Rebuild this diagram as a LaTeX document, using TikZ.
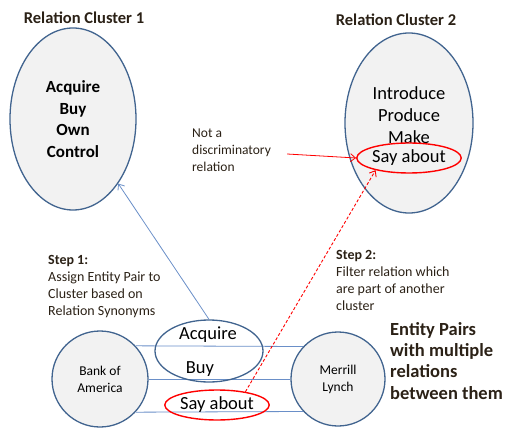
\documentclass[tikz,border=0pt]{standalone}
\usepackage{fontspec}
\setmainfont{Carlito}
\usetikzlibrary{shapes.geometric, arrows.meta}
\definecolor{ringblue}{HTML}{41648F}
\definecolor{linkblue}{HTML}{6A8FC8}
\definecolor{ringfill}{HTML}{F2F2F2}
\definecolor{darktext}{HTML}{2B2116}
\tikzset{
	cluster/.style={draw=ringblue, fill=ringfill, ellipse, line width=1.3pt, inner sep=0pt},
	entity/.style={draw=ringblue, fill=ringfill, circle, line width=1.3pt, inner sep=0pt, minimum size=96pt, font=\fontsize{13.5}{17}\selectfont, align=center},
	relbox/.style={draw=ringblue, ellipse, line width=1.3pt, inner sep=0pt},
	filtered/.style={draw=red, ellipse, line width=1.4pt, inner sep=0pt},
	note/.style={font=\fontsize{14}{17}\selectfont, text=darktext, align=left, anchor=north west, inner sep=0pt},
	heading/.style={font=\fontsize{16.5}{20}\selectfont\bfseries, text=darktext, inner sep=0pt},
	>={Straight Barb[length=5pt, width=8pt]},
}
\begin{document}
\begin{tikzpicture}[x=1pt, y=-1pt]
	\useasboundingbox (0, 0) rectangle (505, 430);
	% clusters
	\node[heading] (titleA) at (84, 18) {Relation Cluster 1};
	\node[heading] (titleB) at (396, 20) {Relation Cluster 2};
	\node[cluster, minimum width=126pt, minimum height=182pt, align=center, font=\fontsize{17}{21.7}\selectfont\bfseries] (clusterA) at (73, 119) {Acquire\\Buy\\Own\\Control};
	\node[cluster, minimum width=128pt, minimum height=180pt] (clusterB) at (409, 123) {};
	\node[align=center, font=\fontsize{18.5}{21.7}\selectfont, inner sep=0pt] (clusterBtext) at (409, 115) {Introduce\\Produce\\Make};
	\node[filtered, minimum width=102pt, minimum height=30pt, font=\fontsize{18.5}{20}\selectfont] (saytop) at (409, 158) {Say about};
	\node[note, font=\fontsize{13.5}{16.8}\selectfont] (notdisc) at (192, 129) {Not a\\discriminatory\\relation};
	% entity pair
	\node[entity] (boa) at (100, 379) {Bank of\\America};
	\node[entity, minimum size=94pt] (ml) at (338, 379) {Merrill\\Lynch};
	\draw[linkblue, line width=0.8pt] (boa.43) -- (ml.137);
	\draw[linkblue, line width=0.8pt] (boa.east) -- (ml.west);
	\draw[linkblue, line width=0.8pt] (boa.-43) -- (ml.-137);
	\node[relbox, minimum width=108pt, minimum height=62pt] (acqbuy) at (209, 351) {};
	\node[font=\fontsize{18.5}{20}\selectfont, inner sep=0pt] (acq) at (208, 335) {Acquire};
	\node[font=\fontsize{18.5}{20}\selectfont, inner sep=0pt] (buy) at (200, 369) {Buy};
	\node[filtered, minimum width=102pt, minimum height=30pt, font=\fontsize{18.5}{20}\selectfont] (saybot) at (217, 405) {Say about};
	% steps
	\node[note] (stepA) at (48, 255) {\textbf{Step 1:}\\Assign Entity Pair to\\Cluster based on\\Relation Synonyms};
	\node[note] (stepB) at (336, 250) {\textbf{Step 2:}\\Filter relation which\\are part of another\\cluster};
	\node[note, font=\fontsize{18.5}{21.3}\selectfont\bfseries] (pairs) at (390, 322) {Entity Pairs\\with multiple\\relations\\between them};
	% arrows
	\draw[->, linkblue, line width=0.8pt] (acqbuy.north) -- (clusterA.-55);
	\draw[->, red, line width=0.8pt] (notdisc.east |- saytop.west) ++(16, -4) -- (saytop.west);
	\draw[->, red, dash pattern=on 3pt off 2pt, line width=0.9pt] (saybot.25) -- (saytop.-160);
\end{tikzpicture}
\end{document}
